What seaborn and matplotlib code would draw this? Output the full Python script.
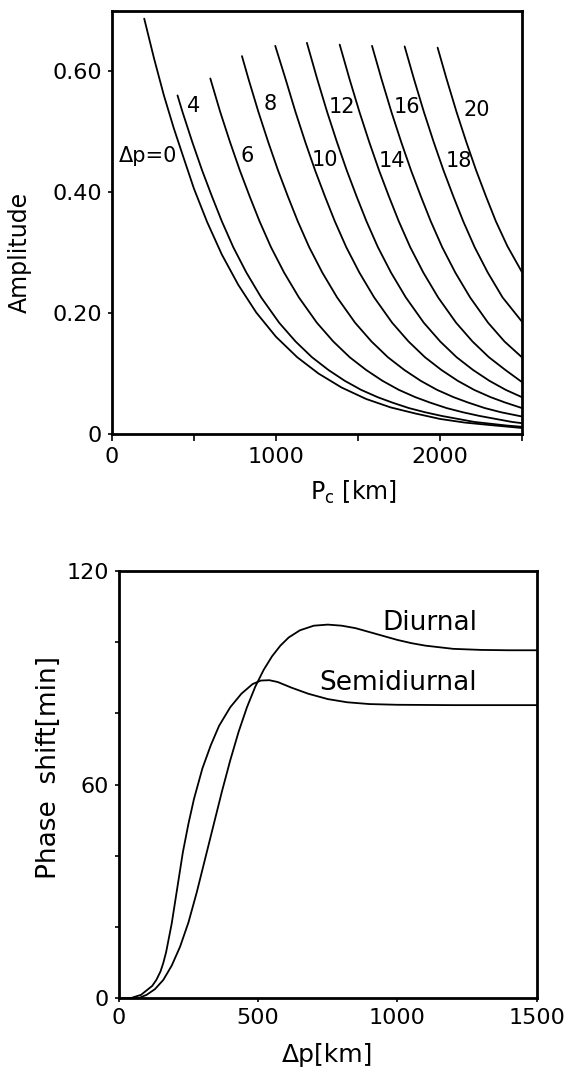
import matplotlib
matplotlib.use('Agg')
import matplotlib.pyplot as plt
import seaborn as sns

# ---- top panel: amplitude vs Pc for several delta-p values ----
pc_dp0 = [197, 257, 317, 377, 437, 500, 580, 670, 770, 880, 1000, 1130, 1260, 1400, 1550, 1700, 1850, 2000, 2150, 2300, 2500]
amp_dp0 = [0.687, 0.621, 0.560, 0.506, 0.457, 0.406, 0.351, 0.297, 0.247, 0.201, 0.161, 0.127, 0.100, 0.077, 0.058, 0.044, 0.034, 0.025, 0.019, 0.015, 0.010]

pc_dp4 = [400, 430, 490, 550, 610, 670, 740, 820, 910, 1020, 1120, 1220, 1320, 1420, 1520, 1620, 1710, 1810, 1910, 2010, 2110, 2210, 2310, 2410, 2500]
amp_dp4 = [0.560, 0.533, 0.483, 0.436, 0.393, 0.352, 0.309, 0.267, 0.226, 0.184, 0.153, 0.127, 0.106, 0.088, 0.073, 0.061, 0.052, 0.043, 0.036, 0.030, 0.025, 0.020, 0.017, 0.014, 0.012]

pc_dp6 = [600, 660, 720, 780, 840, 900, 970, 1050, 1140, 1250, 1350, 1450, 1550, 1650, 1750, 1850, 1940, 2040, 2140, 2240, 2340, 2440, 2500]
amp_dp6 = [0.588, 0.533, 0.483, 0.436, 0.393, 0.352, 0.309, 0.267, 0.226, 0.184, 0.153, 0.127, 0.106, 0.088, 0.073, 0.061, 0.052, 0.043, 0.036, 0.030, 0.025, 0.020, 0.018]

pc_dp8 = [793, 833, 893, 953, 1013, 1073, 1133, 1203, 1283, 1373, 1483, 1583, 1683, 1783, 1883, 1983, 2083, 2173, 2273, 2373, 2500]
amp_dp8 = [0.625, 0.587, 0.533, 0.483, 0.436, 0.393, 0.352, 0.309, 0.267, 0.226, 0.184, 0.153, 0.127, 0.106, 0.088, 0.073, 0.061, 0.052, 0.043, 0.036, 0.029]

pc_dp10 = [996, 1059, 1119, 1179, 1239, 1299, 1359, 1429, 1509, 1599, 1709, 1809, 1909, 2009, 2109, 2209, 2309, 2399, 2500]
amp_dp10 = [0.642, 0.587, 0.533, 0.483, 0.436, 0.393, 0.352, 0.309, 0.267, 0.226, 0.184, 0.153, 0.127, 0.106, 0.088, 0.073, 0.061, 0.052, 0.043]

pc_dp12 = [1189, 1252, 1312, 1372, 1432, 1492, 1552, 1622, 1702, 1792, 1902, 2002, 2102, 2202, 2302, 2402, 2500]
amp_dp12 = [0.647, 0.587, 0.533, 0.483, 0.436, 0.393, 0.352, 0.309, 0.267, 0.226, 0.184, 0.153, 0.127, 0.106, 0.088, 0.073, 0.061]

pc_dp14 = [1389, 1449, 1509, 1569, 1629, 1689, 1749, 1819, 1899, 1989, 2099, 2199, 2299, 2399, 2500]
amp_dp14 = [0.644, 0.587, 0.533, 0.483, 0.436, 0.393, 0.352, 0.309, 0.267, 0.226, 0.184, 0.153, 0.127, 0.106, 0.086]

pc_dp16 = [1586, 1644, 1704, 1764, 1824, 1884, 1944, 2014, 2094, 2184, 2294, 2394, 2500]
amp_dp16 = [0.642, 0.587, 0.533, 0.483, 0.436, 0.393, 0.352, 0.309, 0.267, 0.226, 0.184, 0.153, 0.127]

pc_dp18 = [1785, 1842, 1902, 1962, 2022, 2082, 2142, 2212, 2292, 2382, 2500]
amp_dp18 = [0.641, 0.587, 0.533, 0.483, 0.436, 0.393, 0.352, 0.309, 0.267, 0.226, 0.186]

pc_dp20 = [1986, 2041, 2101, 2161, 2221, 2281, 2341, 2411, 2500]
amp_dp20 = [0.639, 0.587, 0.533, 0.483, 0.436, 0.393, 0.352, 0.311, 0.268]

# curve labels: text, x (km), amplitude
curve_labels = ["\u0394p=0", "4", "6", "8", "10", "12", "14", "16", "18", "20"]
label_x = [400, 455, 783, 925, 1220, 1321, 1626, 1718, 2033, 2145]
label_y = [0.459, 0.543, 0.460, 0.545, 0.453, 0.541, 0.452, 0.541, 0.451, 0.536]

# ---- bottom panel: phase shift vs delta-p ----
dp_semi = [0, 40, 80, 120, 135, 150, 160, 170, 190, 210, 230, 250, 270, 300, 330, 360, 400, 440, 480, 510, 540, 570, 620, 680, 750, 820, 900, 1000, 1200, 1500]
shift_semi = [0, 0, 1.0, 3.5, 5.2, 7.6, 10.0, 13.0, 21.0, 31.0, 41.0, 49.0, 56.0, 64.5, 71.0, 76.5, 81.7, 85.5, 88.2, 89.2, 89.3, 88.8, 87.2, 85.5, 84.0, 83.1, 82.6, 82.4, 82.3, 82.3]

dp_diur = [0, 69, 100, 130, 160, 190, 220, 250, 280, 310, 340, 370, 400, 430, 460, 490, 520, 550, 580, 610, 650, 700, 750, 800, 850, 900, 950, 1000, 1050, 1100, 1200, 1300, 1400, 1500]
shift_diur = [0, 0, 1.0, 2.6, 5.2, 9.2, 14.5, 21.3, 29.8, 39.2, 48.6, 58.0, 66.8, 74.8, 81.7, 87.5, 92.2, 96.0, 99.0, 101.3, 103.3, 104.6, 104.9, 104.6, 103.9, 102.8, 101.7, 100.6, 99.7, 99.0, 98.1, 97.8, 97.7, 97.7]

sns.set_theme(style="ticks")
plt.rcParams['font.family'] = ['DejaVu Sans']
plt.rcParams['mathtext.fontset'] = 'dejavusans'
for key in ['text.color', 'axes.labelcolor', 'xtick.color', 'ytick.color', 'axes.edgecolor']:
    plt.rcParams[key] = 'black'

fig = plt.figure(figsize=(5.71, 10.77), dpi=100)
ax1 = fig.add_axes([0.196, 0.597, 0.718, 0.393])
ax2 = fig.add_axes([0.208, 0.073, 0.732, 0.397])

curves = [(pc_dp0, amp_dp0), (pc_dp4, amp_dp4), (pc_dp6, amp_dp6), (pc_dp8, amp_dp8),
          (pc_dp10, amp_dp10), (pc_dp12, amp_dp12), (pc_dp14, amp_dp14),
          (pc_dp16, amp_dp16), (pc_dp18, amp_dp18), (pc_dp20, amp_dp20)]
for xs, ys in curves:
    sns.lineplot(x=xs, y=ys, ax=ax1, color='black', lw=1.3, sort=False, estimator=None)

for i, txt in enumerate(curve_labels):
    ax1.text(label_x[i], label_y[i], txt, ha='right' if i == 0 else 'left',
             va='center', fontsize=15)

ax1.set_xlim(0, 2500)
ax1.set_ylim(0, 0.70)
ax1.set_xticks([0, 500, 1000, 1500, 2000, 2500])
ax1.set_xticklabels(['0', '', '1000', '', '2000', ''])
ax1.set_yticks([0, 0.2, 0.4, 0.6])
ax1.set_yticklabels(['0', '0.20', '0.40', '0.60'])
ax1.tick_params(axis='x', direction='out', length=5, width=1.2, labelsize=16, pad=4)
ax1.tick_params(axis='y', direction='out', length=3, width=1.2, labelsize=16, pad=4)
ax1.set_ylabel('Amplitude', fontsize=17)
ax1.set_xlabel('P$_\\mathrm{c}$ [km]', fontsize=17)
ax1.yaxis.set_label_coords(-0.195, 0.43)
ax1.xaxis.set_label_coords(0.59, -0.105)

sns.lineplot(x=dp_semi, y=shift_semi, ax=ax2, color='black', lw=1.3, sort=False, estimator=None)
sns.lineplot(x=dp_diur, y=shift_diur, ax=ax2, color='black', lw=1.3, sort=False, estimator=None)
ax2.text(946, 105.4, 'Diurnal', ha='left', va='center', fontsize=19)
ax2.text(721, 88.5, 'Semidiurnal', ha='left', va='center', fontsize=19)

ax2.set_xlim(0, 1500)
ax2.set_ylim(0, 120)
ax2.set_xticks([0, 500, 1000, 1500])
ax2.set_xticklabels(['0', '500', '1000', '1500'])
ax2.set_yticks([0, 20, 40, 60, 80, 100, 120])
ax2.set_yticklabels(['0', '', '', '60', '', '', '120'])
ax2.tick_params(axis='both', direction='out', length=3, width=1.2, labelsize=16, pad=4)
ax2.set_ylabel('Phase  shift[min]', fontsize=19)
ax2.set_xlabel('\u0394p[km]', fontsize=18)
ax2.yaxis.set_label_coords(-0.135, 0.54)
ax2.xaxis.set_label_coords(0.5, -0.105)

for ax in (ax1, ax2):
    for sp in ax.spines.values():
        sp.set_linewidth(2.0)
        sp.set_color('black')
    ax.set_facecolor('white')

fig.savefig('out.png', dpi=100, facecolor='white')
